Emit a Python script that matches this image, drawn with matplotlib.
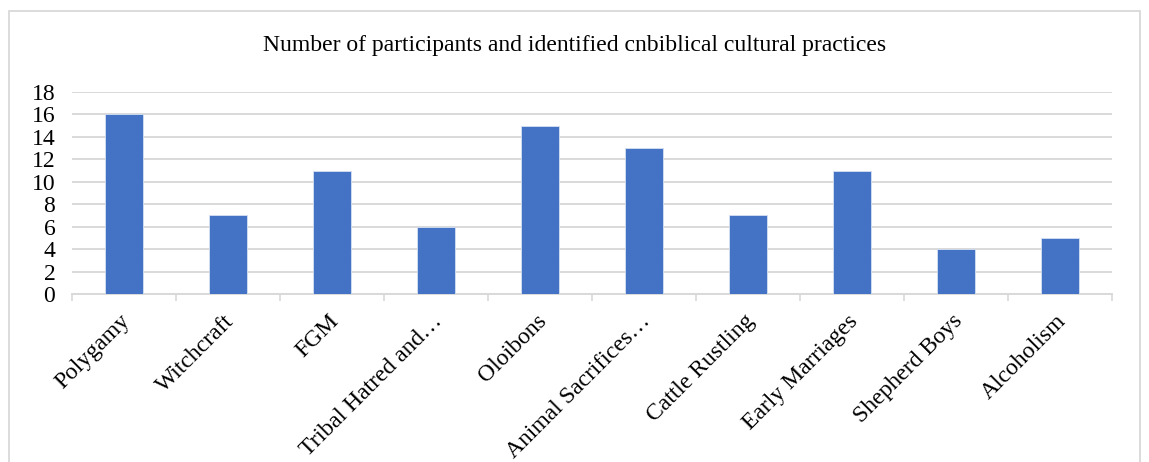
import matplotlib
matplotlib.use("Agg")
import matplotlib.pyplot as plt
from matplotlib.patches import Rectangle
from matplotlib.transforms import ScaledTranslation

plt.rcParams['font.family'] = ['Liberation Serif', 'DejaVu Serif']

categories = ["Polygamy", "Witchcraft", "FGM", "Tribal Hatred and\u2026", "Oloibons",
              "Animal Sacrifices\u2026", "Cattle Rustling", "Early Marriages",
              "Shepherd Boys", "Alcoholism"]
participants = [16, 7, 11, 6, 15, 13, 7, 11, 4, 5]
y_ticks = [0, 2, 4, 6, 8, 10, 12, 14, 16, 18]
title = "Number of participants and identified cnbiblical cultural practices"

bar_color = "#4472C4"
grid_color = "#D9D9D9"

fig = plt.figure(figsize=(11.49, 4.62), dpi=100)
W, H = 1149, 462
# plot area in pixels: x 72..1112, y 92..294 (top-down)
ax = fig.add_axes([72 / W, 1 - 294 / H, 1040 / W, (294 - 92) / H])

# chart frame
fig.patches.append(Rectangle((9 / W, -0.1), (1140 - 9) / W, 1.1 - 11 / H,
                             transform=fig.transFigure, fill=False,
                             edgecolor=grid_color, linewidth=1.3))

x = list(range(len(categories)))
ax.bar(x, participants, width=0.365, color=bar_color, edgecolor="#D6E0F2",
       linewidth=0.6, zorder=3)

ax.set_xlim(-0.5, len(categories) - 0.5)
ax.set_ylim(0, 18)
ax.set_yticks(y_ticks)
ax.set_yticklabels([str(v) for v in y_ticks], fontsize=17)
ax.tick_params(axis='y', length=0, pad=12)
ax.yaxis.grid(True, color=grid_color, linewidth=1.4, zorder=0)
ax.set_axisbelow(True)

for s in ["top", "right", "left"]:
    ax.spines[s].set_visible(False)
ax.spines["bottom"].set_color(grid_color)
ax.spines["bottom"].set_linewidth(1.4)

# category boundary ticks
ax.set_xticks([i - 0.5 for i in range(len(categories) + 1)])
ax.set_xticklabels([])
ax.tick_params(axis='x', which='major', length=5, color=grid_color, width=1.2)
ax.set_xticks(x, minor=True)
ax.set_xticklabels(categories, minor=True, rotation=45, ha='right', va='top',
                   rotation_mode='anchor', fontsize=17)
ax.tick_params(axis='x', which='minor', length=0, pad=12)
offset = ScaledTranslation(-3 / 72, 0, fig.dpi_scale_trans)
for lbl in ax.get_xticklabels(minor=True):
    lbl.set_transform(lbl.get_transform() + offset)

fig.text(575 / W, 1 - 46 / H, title, ha='center', va='center', fontsize=17)

fig.savefig("out.png", dpi=100)
